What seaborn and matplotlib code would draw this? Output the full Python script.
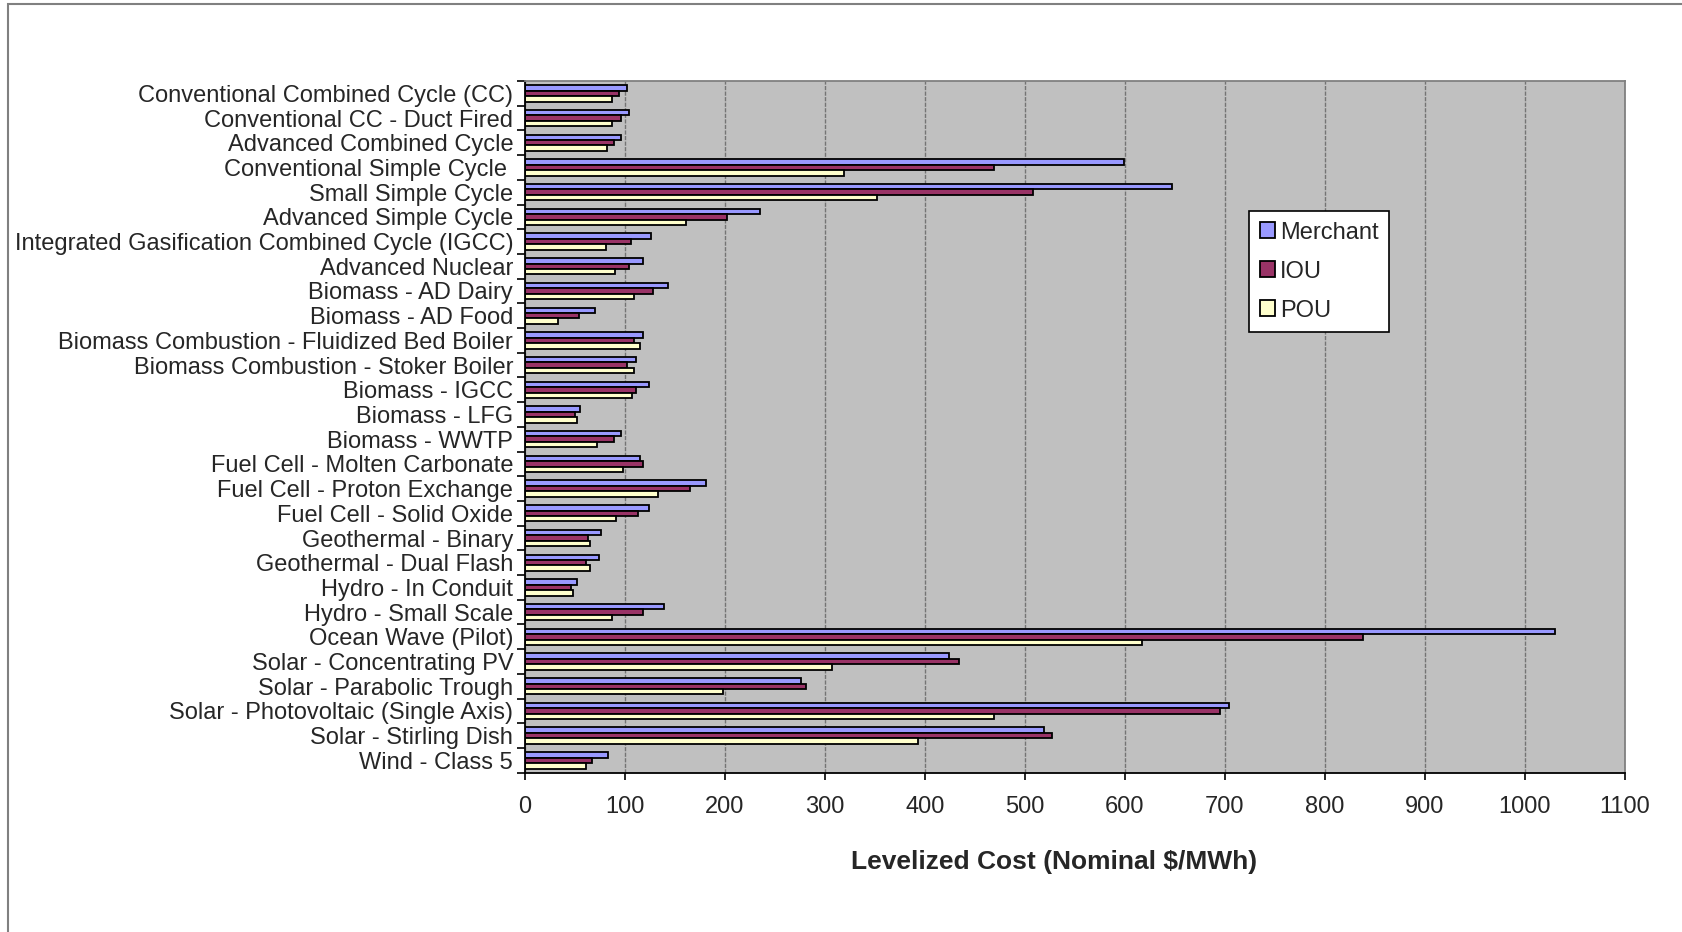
import numpy as np
import pandas as pd
import matplotlib
matplotlib.use("Agg")
import matplotlib.pyplot as plt
from matplotlib import font_manager as fm
import seaborn as sns
from matplotlib.patches import Rectangle

categories = [
    "Conventional Combined Cycle (CC)",
    "Conventional CC - Duct Fired",
    "Advanced Combined Cycle",
    "Conventional Simple Cycle ",
    "Small Simple Cycle",
    "Advanced Simple Cycle",
    "Integrated Gasification Combined Cycle (IGCC)",
    "Advanced Nuclear",
    "Biomass - AD Dairy",
    "Biomass - AD Food",
    "Biomass Combustion - Fluidized Bed Boiler",
    "Biomass Combustion - Stoker Boiler",
    "Biomass - IGCC",
    "Biomass - LFG",
    "Biomass - WWTP",
    "Fuel Cell - Molten Carbonate",
    "Fuel Cell - Proton Exchange",
    "Fuel Cell - Solid Oxide",
    "Geothermal - Binary",
    "Geothermal - Dual Flash",
    "Hydro - In Conduit",
    "Hydro - Small Scale",
    "Ocean Wave (Pilot)",
    "Solar - Concentrating PV",
    "Solar - Parabolic Trough",
    "Solar - Photovoltaic (Single Axis)",
    "Solar - Stirling Dish",
    "Wind - Class 5",
]

merchant = [102, 104, 96, 599, 647, 235, 126, 118, 143, 70, 118, 111, 124, 55, 96,
            115, 181, 124, 76, 74, 52, 139, 1030, 424, 276, 704, 519, 83]
iou = [94, 96, 89, 469, 508, 202, 106, 104, 128, 54, 109, 102, 111, 50, 89,
       118, 165, 113, 63, 61, 46, 118, 838, 434, 281, 695, 527, 67]
pou = [87, 87, 82, 319, 352, 161, 81, 90, 109, 33, 115, 109, 107, 52, 72,
       98, 133, 91, 65, 65, 48, 87, 617, 307, 198, 469, 393, 61]

series_names = ["Merchant", "IOU", "POU"]
colors = ["#9999FF", "#993366", "#FFFFCC"]
x_ticks = list(range(0, 1101, 100))
x_label = "Levelized Cost (Nominal $/MWh)"

df = pd.DataFrame({
    "Technology": categories * 3,
    "Series": ["Merchant"] * len(categories) + ["IOU"] * len(categories) + ["POU"] * len(categories),
    "Cost": merchant + iou + pou,
})

sns.set_style("white")

fam = "Liberation Sans"
for f in fm.fontManager.ttflist:
    base = f.fname.split("/")[-1].lower()
    if base.startswith("liberationsans-") and "narrow" not in base:
        fam = f.name
        break
plt.rcParams["font.family"] = [fam, "DejaVu Sans"]

W, H = 1682, 932
fig = plt.figure(figsize=(W / 100, H / 100), dpi=100)
fig.patch.set_facecolor("white")

x0, x1 = 525, 1625
y0, y1 = 81, 772.7
ax = fig.add_axes([x0 / W, 1 - y1 / H, (x1 - x0) / W, (y1 - y0) / H])
ax.set_facecolor("#C0C0C0")

sns.barplot(data=df, y="Technology", x="Cost", hue="Series", order=categories,
            hue_order=series_names, palette=colors, orient="h", width=0.66,
            edgecolor="black", linewidth=1.3, saturation=1, ax=ax, errorbar=None)

FS = 17
ax.set_xlim(0, 1100)
ax.set_ylim(len(categories) - 0.5, -0.5)
ax.set_xticks(x_ticks)
ax.set_xticklabels([str(v) for v in x_ticks], fontsize=FS)
ax.set_yticks(range(len(categories)))
ax.set_yticklabels(categories, fontsize=FS)
ax.set_yticks(np.arange(-0.5, len(categories), 1), minor=True)
ax.tick_params(axis="y", which="major", length=0, pad=8.5)
ax.tick_params(axis="y", which="minor", length=5.8, width=1.2, color="black", direction="out", left=True)
ax.tick_params(axis="x", which="major", length=5, width=1.2, color="black", direction="out", pad=12, bottom=True)
ax.set_ylabel("")

ax.xaxis.grid(True, color="#747474", linestyle=(0, (3, 1)), linewidth=1)
ax.yaxis.grid(False)
ax.set_axisbelow(True)

for side in ["left", "bottom"]:
    ax.spines[side].set_color("black")
    ax.spines[side].set_linewidth(1.3)
for side in ["top", "right"]:
    ax.spines[side].set_visible(True)
    ax.spines[side].set_color("#808080")
    ax.spines[side].set_linewidth(1.3)

ax.set_xlabel(x_label, fontsize=19, fontweight="bold")
ax.xaxis.set_label_coords((1054 - x0) / (x1 - x0), (y1 - 861.7) / (y1 - y0))
ax.xaxis.label.set_verticalalignment("center")

handles, labels = ax.get_legend_handles_labels()
leg = ax.legend(handles, labels, loc="upper left",
                bbox_to_anchor=((1249 - x0) / (x1 - x0), (y1 - 211) / (y1 - y0)),
                borderaxespad=0, fontsize=17, frameon=True, fancybox=False,
                handlelength=0.65, handleheight=0.65, handletextpad=0.2,
                labelspacing=0.72, borderpad=0.45, framealpha=1, edgecolor="black")
leg.get_frame().set_linewidth(1.2)
leg.get_frame().set_facecolor("white")
for h in leg.legend_handles:
    h.set_edgecolor("black")
    h.set_linewidth(1.3)

fig.patches.append(Rectangle((7.5 / W, -0.1), 1.2, 1 - 3.5 / H + 0.1, transform=fig.transFigure,
                             fill=False, edgecolor="#808080", linewidth=1.5, zorder=0))

fig.savefig("out.png", dpi=100, facecolor="white")
